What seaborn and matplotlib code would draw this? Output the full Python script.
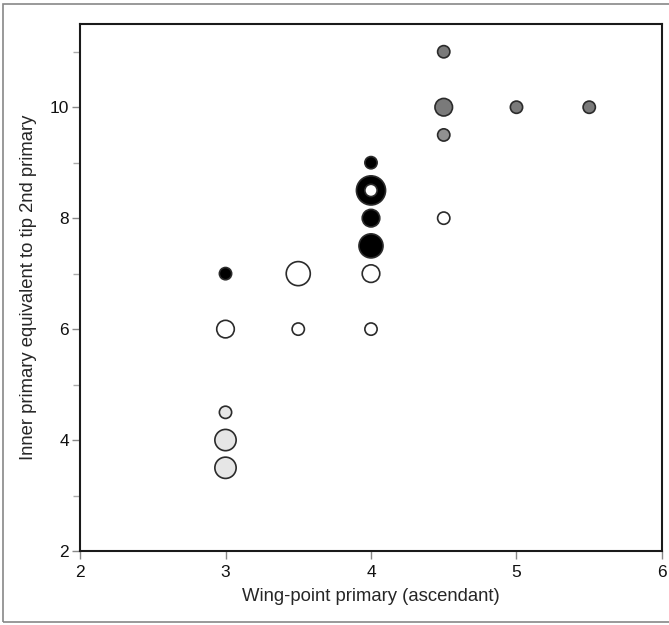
import matplotlib
matplotlib.use('Agg')
import matplotlib.pyplot as plt
import seaborn as sns
import pandas as pd
from matplotlib.patches import Rectangle
from matplotlib.ticker import MultipleLocator

# wing-point primary, inner primary equivalent, group, count
wing_point = [4.5, 4.5, 5.0, 5.5, 4.5,
              4.0, 4.0, 4.0, 4.0, 3.0,
              4.0, 4.5, 3.5, 4.0, 3.0, 3.5, 4.0,
              3.0, 3.0, 3.0]
inner_primary = [11.0, 10.0, 10.0, 10.0, 9.5,
                 9.0, 8.5, 8.0, 7.5, 7.0,
                 8.5, 8.0, 7.0, 7.0, 6.0, 6.0, 6.0,
                 4.5, 4.0, 3.5]
group = ['dark', 'dark', 'dark', 'dark', 'mid',
         'black', 'black', 'black', 'black', 'black',
         'white', 'white', 'white', 'white', 'white', 'white', 'white',
         'light', 'light', 'light']
count = [1, 2, 1, 1, 1,
         1, 5, 2, 4, 1,
         1, 1, 4, 2, 2, 1, 1,
         1, 3, 3]

df = pd.DataFrame({'x': wing_point, 'y': inner_primary, 'group': group, 'n': count})

palette = {'dark': '#7a7a7a', 'mid': '#919191', 'black': '#000000',
           'white': '#ffffff', 'light': '#e6e6e6'}
sizes = {1: 78, 2: 160, 3: 235, 4: 300, 5: 440}

sns.set_style('ticks')
plt.rcParams['font.family'] = ['Liberation Sans', 'DejaVu Sans']

fig = plt.figure(figsize=(6.69, 6.25), dpi=100)
ax = fig.add_axes([0.1196, 0.1184, 0.8699, 0.8432])

sns.scatterplot(data=df, x='x', y='y', hue='group', size='n', palette=palette,
                sizes=sizes, edgecolor='#2b2b2b', linewidth=1.2, legend=False,
                ax=ax, zorder=3)

ax.set_xlim(2, 6)
ax.set_ylim(2, 11.5)
ax.set_xticks([2, 3, 4, 5, 6])
ax.set_yticks([2, 4, 6, 8, 10])
ax.yaxis.set_minor_locator(MultipleLocator(1))
ax.tick_params(axis='both', which='major', length=6, width=1, color='#888888',
               labelsize=12.5, labelcolor='#111111')
ax.tick_params(axis='x', which='major', pad=4)
ax.tick_params(axis='y', which='major', pad=2)
ax.tick_params(axis='y', which='minor', length=5, width=1, color='#aaaaaa')
for sp in ax.spines.values():
    sp.set_linewidth(1.5)
    sp.set_color('#1a1a1a')

ax.set_xlabel('Wing-point primary (ascendant)', fontsize=13.3, labelpad=6)
ax.set_ylabel('Inner primary equivalent to tip 2nd primary', fontsize=13.3, labelpad=9)

fig.patches.append(Rectangle((0.0045, 0.0048), 1.2, 0.9888, transform=fig.transFigure,
                             fill=False, edgecolor='#888888', linewidth=1.2))

fig.savefig('out.png', dpi=100)
